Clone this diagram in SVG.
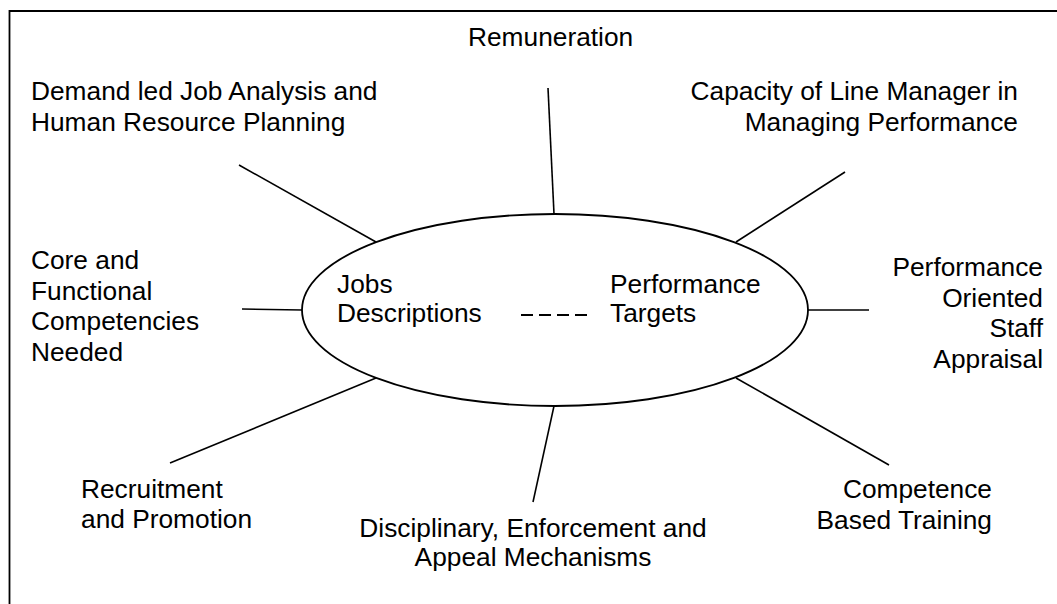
<svg xmlns="http://www.w3.org/2000/svg" width="1057" height="604" viewBox="0 0 1057 604">
<style>
text{font-family:"Liberation Sans",Arial,sans-serif;font-size:26.3px;fill:#000}
.r{text-anchor:end}
.m{text-anchor:middle}
.c line{stroke:#000;stroke-width:1.6}
</style>
<rect x="0" y="0" width="1057" height="604" fill="#fff"/>
<path d="M9.5 604 V11 H1057" fill="none" stroke="#000" stroke-width="1.8"/>
<g class="c" id="connectors">
<line x1="548" y1="88" x2="554" y2="214"/>
<line x1="239" y1="165" x2="376" y2="242"/>
<line x1="845" y1="172" x2="736" y2="242"/>
<line x1="242" y1="309" x2="302" y2="310"/>
<line x1="808" y1="310" x2="869" y2="310"/>
<line x1="170" y1="463" x2="376" y2="378"/>
<line x1="554" y1="406" x2="533" y2="502"/>
<line x1="736" y1="378" x2="889" y2="465"/>
</g>
<g id="center">
<ellipse cx="555" cy="310" rx="253" ry="96" fill="#fff" stroke="#000" stroke-width="1.8"/>
<text x="337" y="292.5">Jobs</text>
<text x="337" y="322">Descriptions</text>
<line x1="521" y1="315" x2="587" y2="315" stroke="#000" stroke-width="2" stroke-dasharray="12,6"/>
<text x="610" y="292.5">Performance</text>
<text x="610" y="322">Targets</text>
</g>
<g id="remuneration"><text x="468" y="45.5">Remuneration</text></g>
<g id="demand"><text x="31" y="100">Demand led Job Analysis and</text><text x="31" y="130.5">Human Resource Planning</text></g>
<g id="capacity"><text class="r" x="1018" y="100">Capacity of Line Manager in</text><text class="r" x="1018" y="130.5">Managing Performance</text></g>
<g id="core"><text x="31" y="269">Core and</text><text x="31" y="299.5">Functional</text><text x="31" y="330">Competencies</text><text x="31" y="360.5">Needed</text></g>
<g id="appraisal"><text class="r" x="1043" y="276">Performance</text><text class="r" x="1043" y="306.5">Oriented</text><text class="r" x="1043" y="337">Staff</text><text class="r" x="1043" y="367.5">Appraisal</text></g>
<g id="recruitment"><text x="81" y="497.5">Recruitment</text><text x="81" y="528">and Promotion</text></g>
<g id="disciplinary"><text class="m" x="533" y="536.5">Disciplinary, Enforcement and</text><text class="m" x="533" y="566">Appeal Mechanisms</text></g>
<g id="competence"><text class="r" x="992" y="498">Competence</text><text class="r" x="992" y="528.5">Based Training</text></g>
</svg>
